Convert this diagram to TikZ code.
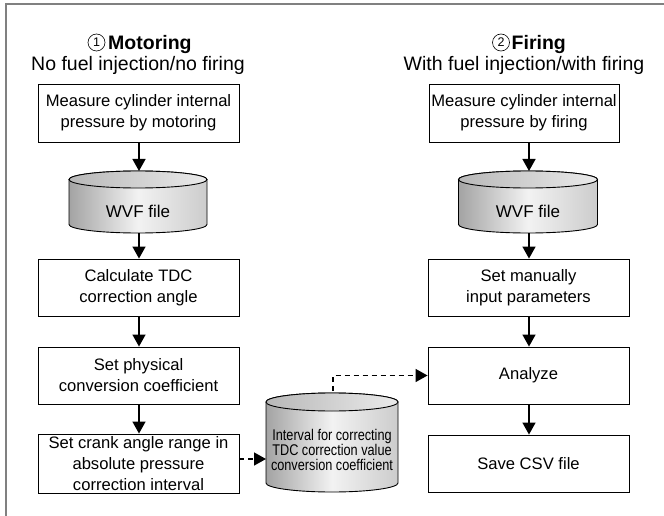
\documentclass[tikz,border=0pt]{standalone}
\usepackage{fontspec}
\setmainfont{Liberation Sans}
\newfontfamily\narrowfont[FakeStretch=0.82]{Liberation Sans}
\usetikzlibrary{arrows.meta}
\newcommand\mycyl[5]{% cx, top-ellipse centre y, bottom-ellipse centre y, rx, ry
  \path[draw=black,line width=0.9pt,left color=black!36,right color=black!20,middle color=black!5]
    (#1-#4,#2) -- (#1-#4,#3) arc[start angle=180,end angle=360,x radius=#4,y radius=#5]
    -- (#1+#4,#2) arc[start angle=0,end angle=180,x radius=#4,y radius=#5] -- cycle;
  \path[draw=black,line width=0.9pt,left color=black!28,right color=black!8]
    (#1,#2) ellipse[x radius=#4,y radius=#5];
}
\begin{document}
\begin{tikzpicture}[x=1pt,y=1pt,
  stepbox/.style={draw=black,line width=0.9pt,align=center,inner sep=0pt,
    font=\fontsize{16.6}{21}\selectfont},
  cyltext/.style={align=center,inner sep=0pt,font=\fontsize{17}{21}\selectfont},
  narrowtext/.style={align=center,inner sep=0pt,font=\narrowfont\fontsize{15.5}{14.8}\selectfont},
  titletext/.style={anchor=base,inner sep=0pt,font=\fontsize{19.5}{22}\selectfont},
  boldtitle/.style={anchor=base west,inner sep=0pt,font=\bfseries\fontsize{19.5}{22}\selectfont},
  circnum/.style={circle,draw=black,line width=0.6pt,minimum size=17pt,inner sep=0pt,
    font=\fontsize{12.5}{13}\selectfont},
  flow/.style={line width=1.5pt,-{Triangle[length=12pt,width=13pt]}},
  dashflow/.style={line width=1.5pt,dash pattern=on 5pt off 4pt,-{Triangle[length=12pt,width=13pt]}},
  frameline/.style={draw=black!50,line width=1.4pt}]
\useasboundingbox (0,0) rectangle (664,-516);
\draw[frameline] (664,-4) -- (6,-4) -- (6,-516);

% titles
\node[circnum] (nL) at (96.5,-42.5) {1};
\node[boldtitle] (tL) at (108,-50) {Motoring};
\node[titletext] (sL) at (138,-71) {No fuel injection/no firing};
\node[circnum] (nR) at (501,-42.5) {2};
\node[boldtitle] (tR) at (511.5,-50) {Firing};
\node[titletext] (sR) at (524,-71) {With fuel injection/with firing};

% left column
\node[stepbox,minimum width=201pt,minimum height=58pt] (L1) at (138.5,-113) {Measure cylinder internal\\pressure by motoring};
\mycyl{138}{-179.5}{-224.5}{69}{8.5}
\coordinate (cLtop) at (139,-171);
\coordinate (cLbot) at (139,-233);
\node[cyltext] (cL) at (138,-211) {WVF file};
\node[stepbox,minimum width=201pt,minimum height=57pt] (L2) at (138.5,-287.5) {Calculate TDC\\correction angle};
\node[stepbox,minimum width=201pt,minimum height=57pt] (L3) at (138.5,-375.5) {Set physical\\conversion coefficient};
\node[stepbox,minimum width=201pt,minimum height=59pt] (L4) at (138.5,-463.5) {Set crank angle range in\\absolute pressure\\correction interval};

% right column
\node[stepbox,minimum width=190pt,minimum height=58pt] (R1) at (524,-113) {Measure cylinder internal\\pressure by firing};
\mycyl{528}{-179.5}{-224.5}{69.5}{8.5}
\coordinate (cRtop) at (529,-171);
\coordinate (cRbot) at (529,-233);
\node[cyltext] (cR) at (528,-211) {WVF file};
\node[stepbox,minimum width=201pt,minimum height=57pt] (R2) at (528.5,-287.5) {Set manually\\input parameters};
\node[stepbox,minimum width=201pt,minimum height=57pt] (R3) at (528.5,-375.5) {Analyze};
\node[stepbox,minimum width=201pt,minimum height=57pt] (R4) at (528.5,-463.5) {Save CSV file};

% middle cylinder
\mycyl{332}{-402}{-483}{66}{9}
\coordinate (cMwest) at (266,-459);
\coordinate (cMtop) at (333,-391);
\node[narrowtext] (cM) at (332,-450) {Interval for correcting\\TDC correction value\\conversion coefficient};

% connectors
\draw[flow] (L1.south -| cLtop) -- (cLtop);
\draw[flow] (cLbot) -- (cLbot |- L2.north);
\draw[flow] (L2.south -| cLtop) -- (L3.north -| cLtop);
\draw[flow] (L3.south -| cLtop) -- (L4.north -| cLtop);
\draw[flow] (R1.south -| cRtop) -- (cRtop);
\draw[flow] (cRbot) -- (cRbot |- R2.north);
\draw[flow] (R2.south -| cRtop) -- (R3.north -| cRtop);
\draw[flow] (R3.south -| cRtop) -- (R4.north -| cRtop);
\draw[dashflow] (L4.east |- cMwest) -- (cMwest);
\draw[dashflow] (cMtop) |- (R3.west);
\end{tikzpicture}
\end{document}
